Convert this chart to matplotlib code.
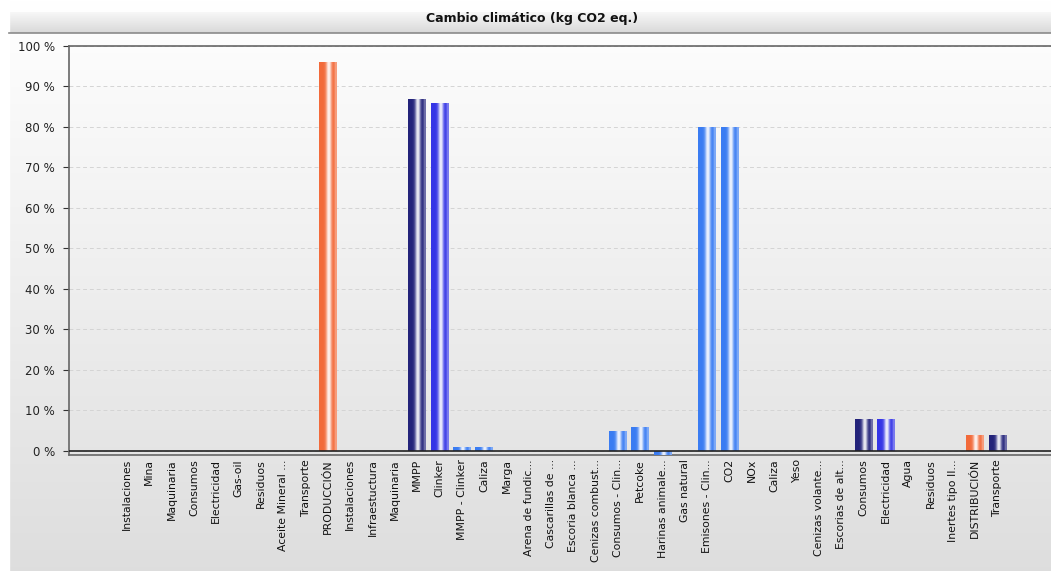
import numpy as np
import matplotlib
matplotlib.use("Agg")
import matplotlib.pyplot as plt
from matplotlib.colors import to_rgb

# categories along x, in order
labels = ["Instalaciones", "Mina", "Maquinaria", "Consumos", "Electricidad", "Gas-oil",
          "Residuos", "Aceite Mineral ...", "Transporte", "PRODUCCIÓN", "Instalaciones",
          "Infraestuctura", "Maquinaria", "MMPP", "Clinker", "MMPP - Clinker", "Caliza",
          "Marga", "Arena de fundic...", "Cascarillas de ...", "Escoria blanca ...",
          "Cenizas combust...", "Consumos - Clin...", "Petcoke", "Harinas animale...",
          "Gas natural", "Emisones - Clin...", "CO2", "NOx", "Caliza", "Yeso",
          "Cenizas volante...", "Escorias de alt...", "Consumos", "Electricidad", "Agua",
          "Residuos", "Inertes tipo II...", "DISTRIBUCIÓN", "Transporte"]

# % of total
values = [0, 0, 0, 0, 0, 0, 0, 0, 0, 96, 0, 0, 0, 87, 86, 1, 1, 0, 0, 0, 0, 0,
          5, 6, -1, 0, 80, 80, 0, 0, 0, 0, 0, 8, 8, 0, 0, 0, 4, 4]

# hierarchy level -> colour (0 phase, 1 group, 2 sub, 3 item)
levels = [1, 2, 2, 1, 2, 2, 2, 2, 1, 0, 1, 1, 1, 1, 2, 3, 3, 3, 3, 3, 3, 3,
          3, 3, 3, 3, 3, 3, 3, 2, 2, 2, 2, 1, 2, 2, 2, 2, 0, 1]
level_colors = ["#f26a3a", "#23237a", "#3535e6", "#3a7cf2"]

fig = plt.figure(figsize=(10.51, 5.71), dpi=100)

# figure background gradient
bg = fig.add_axes([0, 0, 1, 1], zorder=-10)
g = np.linspace(1.0, 0.87, 256).reshape(-1, 1)
bg.imshow(np.dstack([g, g, g]), extent=(0, 1, 0, 1), aspect="auto", interpolation="bilinear")
bg.axvspan(0, 9 / 1051, color="white")
# title band
band = np.linspace(0.97, 0.85, 64).reshape(-1, 1)
bg.imshow(np.dstack([band, band, band]), extent=(9 / 1051, 1, 1 - 33 / 571, 1 - 12 / 571),
          aspect="auto", interpolation="bilinear")
bg.axhline(1 - 33 / 571, xmin=9 / 1051, color="#8a8a8a", lw=1.2)
bg.set_xlim(0, 1)
bg.set_ylim(0, 1)
bg.axis("off")
fig.text(532 / 1051, 1 - 18.5 / 571, "Cambio climático (kg CO2 eq.)", ha="center", va="center",
         fontsize=9, fontweight="bold", color="#111111")

ax = fig.add_axes([69 / 1051, 1 - 455 / 571, 1 - 69 / 1051, (455 - 46) / 571])
ax.patch.set_alpha(0)
x = np.arange(len(labels))
bars = ax.bar(x, values, width=0.8, color="none", zorder=3)

t = np.linspace(0, 1, 64)
white = 0.95 * np.exp(-((t - 0.55) / 0.15) ** 2) + 0.4 * np.exp(-((t - 0.95) / 0.08) ** 2)
white = np.clip(white, 0, 0.9)
for b, v, lv in zip(bars, values, levels):
    if v == 0:
        continue
    c = np.array(to_rgb(level_colors[lv]))
    img = c[None, :] * (1 - white[:, None]) + white[:, None]
    y0, y1 = sorted([0, v])
    im = ax.imshow(img[None, :, :], extent=(b.get_x(), b.get_x() + b.get_width(), y0, y1),
                   aspect="auto", interpolation="bilinear", zorder=3)
    im.set_clip_path(b)

ax.set_xlim(-2.6, 41.4)
ax.set_ylim(-1, 100)
ax.set_yticks(np.arange(0, 101, 10))
ax.set_yticklabels([f"{v} %" for v in range(0, 101, 10)])
ax.set_xticks(x)
ax.set_xticklabels(labels, rotation=90, fontsize=7.8, color="#111111")
ax.tick_params(axis="x", length=0, pad=3)
ax.tick_params(axis="y", length=4, color="#333333", labelsize=8.5, pad=6, labelcolor="#222222")
ax.grid(axis="y", color="#d4d4d4", ls=(0, (4, 3)), lw=0.7, zorder=0)
ax.axhline(0, color="#222222", lw=1.2, zorder=4)
for s in ["left", "top", "bottom"]:
    ax.spines[s].set_color("#666666")
    ax.spines[s].set_linewidth(1.2)
ax.spines["right"].set_visible(False)

fig.savefig("out.png", dpi=100)
